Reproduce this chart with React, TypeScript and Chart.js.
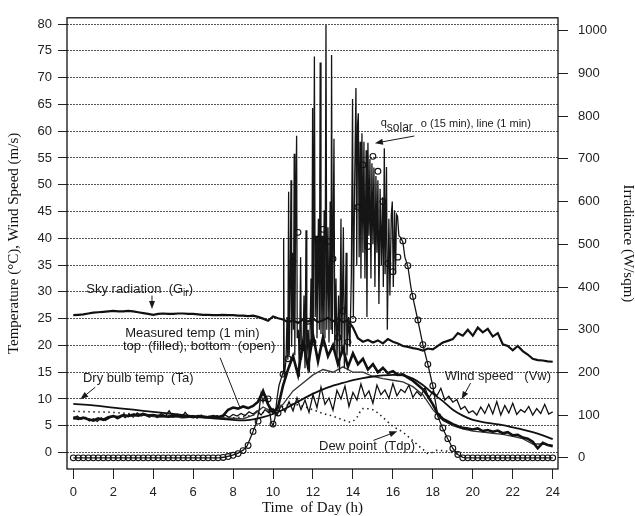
import React, { useEffect, useRef } from "react";
import { Chart, registerables } from "chart.js";

Chart.register(...registerables);

// ---------- tick labels ----------
const HOUR_TICKS = [0, 2, 4, 6, 8, 10, 12, 14, 16, 18, 20, 22, 24];
const TEMP_TICKS = [0, 5, 10, 15, 20, 25, 30, 35, 40, 45, 50, 55, 60, 65, 70, 75, 80];
const IRR_TICKS = [0, 100, 200, 300, 400, 500, 600, 700, 800, 900, 1000];

// ---------- time grids ----------
const QUARTER_HOURS = Array.from({ length: 97 }, (_, i) => i / 4);
const FIFTH_HOURS = Array.from({ length: 121 }, (_, i) => i / 5);
const HALF_HOURS = Array.from({ length: 49 }, (_, i) => i / 2);

// ---------- q_solar, 15 min averages (W/sqm) ----------
const QSOLAR_15MIN = [
  0, 0, 0, 0, 0, 0, 0, 0,
  0, 0, 0, 0, 0, 0, 0, 0,
  0, 0, 0, 0, 0, 0, 0, 0,
  0, 0, 0, 0, 0, 0, 1, 3,
  6, 10, 17, 29, 62, 86, 140, 138,
  79, 105, 196, 232, 460, 528, 259, 320,
  271, 512, 535, 507, 466, 282, 344, 271,
  324, 587, 686, 495, 706, 671, 600, 455,
  436, 470, 508, 450, 378, 323, 265, 219,
  169, 97, 70, 45, 22, 8, 0, 0,
  0, 0, 0, 0, 0, 0, 0, 0,
  0, 0, 0, 0, 0, 0, 0, 0,
  0,
];

// ---------- q_solar, 1 min line (W/sqm) ----------
const QSOLAR_1MIN_HOURS = [
  0, 7.3, 7.6, 7.9, 8.2, 8.5, 8.7, 8.85, 9.0, 9.15, 9.3, 9.4, 9.5, 9.6, 9.7, 9.8, 9.9, 10.0, 10.1, 10.2, 10.3, 10.4,
  10.5, 10.53, 10.56, 10.65, 10.7, 10.74, 10.78, 10.81, 10.86, 10.9, 10.93, 10.98, 11.02, 11.06, 11.09, 11.13, 11.18, 11.21,
  11.27, 11.32, 11.38, 11.42, 11.5, 11.55, 11.6, 11.65, 11.69, 11.76, 11.82, 11.9, 11.94, 11.98, 12.01, 12.07, 12.11, 12.16,
  12.2, 12.27, 12.32, 12.36, 12.4, 12.46, 12.5, 12.56, 12.6, 12.65, 12.69, 12.75, 12.8, 12.86, 12.9, 12.93, 12.97, 13.05,
  13.09, 13.15, 13.2, 13.28, 13.33, 13.4, 13.44, 13.52, 13.57, 13.66, 13.7, 13.78, 13.85, 13.92, 13.98, 14.02, 14.08, 14.15,
  14.19, 14.23, 14.27, 14.31, 14.36, 14.4, 14.45, 14.5, 14.55, 14.6, 14.66, 14.7, 14.75, 14.8, 14.85, 14.9, 14.95, 15.0,
  15.05, 15.1, 15.15, 15.2, 15.25, 15.3, 15.36, 15.42, 15.48, 15.52, 15.57, 15.61, 15.68, 15.72, 15.8, 15.85, 15.92, 15.97,
  16.02, 16.08, 16.13, 16.18, 16.23, 16.3, 16.4, 16.5, 16.6, 16.75, 16.9, 17.0, 17.25, 17.5, 17.75, 18.0, 18.25, 18.5,
  18.75, 19.0, 19.25, 19.5, 19.7, 24,
];
const QSOLAR_1MIN_VALUES = [
  0, 0, 2, 5, 10, 18, 28, 45, 62, 80, 110, 150, 130, 148, 140, 120, 85, 75, 95, 140, 170, 185,
  200, 515, 190, 230, 330, 230, 623, 240, 420, 650, 260, 480, 300, 712, 240, 560, 754, 280,
  300, 190, 470, 230, 260, 380, 210, 533, 230, 300, 200, 420, 260, 819, 280, 940, 330, 520,
  280, 560, 300, 926, 290, 520, 260, 580, 280, 1014, 300, 540, 270, 600, 300, 943, 290, 747,
  250, 420, 230, 380, 200, 560, 240, 540, 210, 480, 240, 330, 260, 430, 840, 330, 620, 866,
  450, 780, 807, 470, 740, 420, 760, 480, 740, 420, 720, 330, 738, 520, 700, 420, 690, 500,
  680, 400, 660, 480, 650, 360, 630, 450, 610, 400, 725, 430, 681, 300, 560, 380, 570, 600,
  400, 580, 430, 570, 566, 520, 515, 505, 470, 448, 400, 376, 322, 265, 219, 168, 97, 68,
  44, 22, 8, 1, 0, 0,
];

// ---------- sky radiation G_ir (W/sqm), 15 min ----------
const SKY_RADIATION = [
  334, 335, 336, 338, 340, 341, 342, 343,
  344, 343, 343, 344, 343, 341, 339, 337,
  335, 337, 338, 337, 337, 338, 338, 337,
  337, 336, 335, 335, 334, 334, 335, 334,
  334, 333, 333, 332, 333, 330, 326, 321,
  331, 327, 324, 318, 322, 316, 324, 319,
  326, 318, 322, 328, 320, 326, 318, 322,
  305, 280, 272, 276, 270, 275, 268, 278,
  272, 268, 262, 260, 257, 255, 251, 256,
  254, 262, 270, 274, 278, 292, 286, 300,
  286, 305, 294, 302, 284, 292, 266, 262,
  252, 262, 250, 242, 232, 229, 228, 226,
  225,
];

// ---------- dry bulb temp Ta (°C) ----------
const TA_HOURS = [0, 1, 2, 3, 4, 5, 6, 7, 8, 8.5, 9, 9.5, 10, 10.5, 11, 11.5, 12, 12.5, 13, 13.5, 14, 14.5, 15, 15.5, 16, 16.5, 17, 17.5, 18, 18.5, 19, 19.5, 20, 20.5, 21, 21.5, 22, 22.5, 23, 23.5, 24];
const TA_VALUES = [9.1, 8.8, 8.4, 8.0, 7.6, 7.2, 6.8, 6.4, 6.1, 6.0, 6.2, 6.6, 7.2, 8.0, 9.0, 10.0, 11.0, 11.8, 12.5, 13.0, 13.5, 13.9, 14.2, 14.4, 14.5, 14.4, 13.8, 12.6, 11.0, 9.6, 8.0, 6.9, 6.1, 5.7, 5.4, 5.1, 4.7, 4.3, 3.8, 3.2, 2.5];

// ---------- measured temp top (filled), 15 min (°C) ----------
const MEASURED_TOP = [
  6.6, 6.3, 6.5, 6.2, 6.0, 6.4, 6.1, 6.6,
  6.8, 6.5, 7.0, 6.8, 7.1, 6.9, 7.2, 6.9,
  7.0, 6.8, 6.9, 6.7, 6.8, 6.9, 6.7, 6.8,
  6.6, 6.8, 6.7, 6.6, 6.8, 6.6, 6.9, 8.0,
  8.4, 8.2, 8.6, 8.3, 8.7, 9.5, 11.5, 9.0,
  7.5, 8.5, 12.5, 15.5, 18.0, 14.5, 20.5, 16.0,
  22.0, 17.0, 21.5, 18.0, 20.0, 16.5, 19.5, 16.0,
  18.5, 16.5, 17.5, 15.5, 16.5, 15.0, 15.8, 14.8,
  15.2, 14.5, 14.6, 14.0, 13.4, 12.6, 11.8, 10.5,
  9.0, 7.2, 6.3, 5.8, 5.3, 4.9, 4.6, 4.5,
  4.3, 4.5, 4.0, 4.2, 3.9, 4.1, 3.6, 3.8,
  3.2, 3.3, 2.8, 2.6, 2.0, 0.8, 1.8, 1.4,
  1.2,
];

// ---------- measured temp bottom (open), 30 min (°C) ----------
const MEASURED_BOTTOM = [
  6.2, 6.6, 5.9, 6.3, 6.7, 6.9, 6.8, 7.0,
  6.7, 6.6, 6.7, 6.5, 6.6, 6.5, 6.5, 6.4,
  6.4, 6.3, 7.0, 8.5, 7.5, 9.0, 11.5, 13.0,
  14.5, 15.5, 15.0, 16.0, 15.0, 15.0, 14.2, 13.8,
  13.5, 13.2, 12.3, 10.8, 8.0, 6.0, 5.0, 4.4,
  4.0, 3.8, 3.6, 3.4, 3.0, 2.6, 1.6, 1.6,
  1.3,
];

// ---------- wind speed Vw (m/s), 12 min ----------
const WIND_SPEED = [
  6.4, 6.8, 6.2, 6.6, 5.9, 6.3, 5.8, 6.5, 6.0, 6.4,
  6.9, 6.3, 7.0, 6.5, 7.2, 6.6, 7.4, 6.8, 7.1, 6.6,
  7.0, 6.5, 7.3, 6.7, 7.8, 6.6, 7.2, 6.5, 7.5, 6.6,
  6.9, 6.4, 7.0, 6.5, 6.8, 6.4, 6.9, 6.5, 7.0, 6.6,
  7.1, 6.8, 7.3, 6.9, 7.6, 7.2, 7.8, 7.0, 8.0, 7.4,
  8.2, 7.0, 8.8, 7.6, 9.5, 7.8, 10.2, 8.0, 9.8, 7.5,
  10.8, 8.4, 12.2, 9.0, 10.2, 7.9, 11.6, 10.0, 12.4, 8.6,
  11.2, 9.8, 12.8, 10.4, 11.5, 9.2, 12.6, 10.8, 11.7, 10.1,
  12.9, 10.6, 11.8, 11.2, 12.6, 10.3, 11.4, 10.6, 12.1, 10.2,
  11.4, 10.6, 12.0, 9.8, 10.5, 9.4, 9.9, 8.1, 8.6, 7.4,
  7.8, 7.0, 8.5, 7.3, 9.0, 7.2, 9.5, 7.0, 8.8, 7.4,
  9.2, 7.1, 8.0, 7.5, 8.6, 7.0, 8.2, 7.3, 9.0, 7.2,
  7.6,
];

// ---------- dew point Tdp (°C) ----------
const DEW_HOURS = [0, 1, 2, 3, 4, 5, 6, 7, 8, 9, 10, 11, 12, 12.5, 13, 13.5, 13.9, 14.2, 14.5, 15, 15.4, 16, 16.5, 17, 17.5, 17.8, 18.2, 18.8, 19.2];
const DEW_VALUES = [7.7, 7.6, 7.5, 7.2, 7.0, 6.8, 6.7, 6.6, 6.5, 7.0, 8.0, 9.0, 8.0, 7.3, 6.8, 6.1, 5.7, 6.6, 8.2, 8.0, 6.9, 4.9, 3.8, 2.2, 0.6, -0.2, 0.4, 0.2, -0.3];

// ---------- annotation texts (position in hours / °C) ----------
const SANS = '"Liberation Sans", Arial, Helvetica, sans-serif';
const SERIF = '"Liberation Serif", "Times New Roman", Times, serif';

const TEXT_LABELS = [
  { x: 0.65, y: 30.4, parts: [{ t: "Sky radiation  (G", s: 13, dy: 0 }, { t: "ir", s: 10, dy: 3.5 }, { t: ")", s: 13, dy: 0 }] },
  { x: 2.6, y: 22.3, parts: [{ t: "Measured temp (1 min)", s: 13, dy: 0 }] },
  { x: 2.485, y: 19.8, parts: [{ t: "top  (filled), bottom  (open)", s: 13, dy: 0 }] },
  { x: 0.485, y: 13.76, parts: [{ t: "Dry bulb temp  (Ta)", s: 13, dy: 0 }] },
  { x: 15.39, y: 61.4, parts: [{ t: "q", s: 11, dy: -1 }, { t: "solar", s: 12, dy: 4 }] },
  { x: 17.4, y: 61.4, parts: [{ t: "o (15 min), line (1 min)", s: 11, dy: 0 }] },
  { x: 18.6, y: 14.2, parts: [{ t: "Wind speed   (Vw)", s: 13, dy: 0 }] },
  { x: 12.3, y: 1.16, parts: [{ t: "Dew point  (Tdp)", s: 13, dy: 0 }] },
];

const POINTERS = [
  { x1: 3.94, y1: 29.3, x2: 3.94, y2: 26.78, head: true },
  { x1: 7.35, y1: 17.7, x2: 8.35, y2: 8.33, head: false },
  { x1: 1.1, y1: 12.19, x2: 0.35, y2: 9.93, head: true },
  { x1: 17.07, y1: 59.09, x2: 15.1, y2: 57.75, head: true },
  { x1: 19.89, y1: 12.98, x2: 19.44, y2: 9.93, head: true },
  { x1: 15.02, y1: 2.26, x2: 16.22, y2: 3.97, head: true },
];

const zip = (xs: number[], ys: number[]) => xs.map((x, i) => ({ x, y: ys[i] }));

const annotationPlugin = {
  id: "figureAnnotations",
  afterDatasetsDraw(chart: any) {
    const { ctx, chartArea, scales } = chart;
    const sx = scales.x;
    const sy = scales.y;
    ctx.save();
    ctx.strokeStyle = "#111";
    ctx.lineWidth = 1.3;
    ctx.strokeRect(chartArea.left, chartArea.top, chartArea.right - chartArea.left, chartArea.bottom - chartArea.top);

    ctx.fillStyle = "#1a1a1a";
    ctx.textBaseline = "middle";
    ctx.textAlign = "left";
    for (const lab of TEXT_LABELS) {
      let px = sx.getPixelForValue(lab.x);
      const py = sy.getPixelForValue(lab.y);
      for (const p of lab.parts) {
        ctx.font = `${p.s}px ${SANS}`;
        ctx.fillText(p.t, px, py + p.dy);
        px += ctx.measureText(p.t).width;
      }
    }

    ctx.strokeStyle = "#1a1a1a";
    ctx.lineWidth = 1;
    for (const a of POINTERS) {
      const x1 = sx.getPixelForValue(a.x1);
      const y1 = sy.getPixelForValue(a.y1);
      const x2 = sx.getPixelForValue(a.x2);
      const y2 = sy.getPixelForValue(a.y2);
      const ang = Math.atan2(y2 - y1, x2 - x1);
      const hl = 8;
      const hw = 3;
      const ex = a.head ? x2 - Math.cos(ang) * hl * 0.8 : x2;
      const ey = a.head ? y2 - Math.sin(ang) * hl * 0.8 : y2;
      ctx.beginPath();
      ctx.moveTo(x1, y1);
      ctx.lineTo(ex, ey);
      ctx.stroke();
      if (a.head) {
        const bx = x2 - Math.cos(ang) * hl;
        const by = y2 - Math.sin(ang) * hl;
        ctx.beginPath();
        ctx.moveTo(x2, y2);
        ctx.lineTo(bx + Math.sin(ang) * hw, by - Math.cos(ang) * hw);
        ctx.lineTo(bx - Math.sin(ang) * hw, by + Math.cos(ang) * hw);
        ctx.closePath();
        ctx.fill();
      }
    }
    ctx.restore();
  },
};

export default function App() {
  const ref = useRef<HTMLCanvasElement | null>(null);

  useEffect(() => {
    if (!ref.current) return;
    const tickFont = { family: SANS, size: 13 };
    const titleFont = { family: SERIF, size: 15, lineHeight: 1 };
    const chart = new Chart(ref.current, {
      type: "line",
      data: {
        datasets: [
          {
            label: "q_solar 15 min",
            data: zip(QUARTER_HOURS, QSOLAR_15MIN),
            yAxisID: "y1",
            showLine: false,
            pointRadius: 2.9,
            pointBorderWidth: 1.1,
            pointBorderColor: "#111",
            pointBackgroundColor: "rgba(0,0,0,0)",
            borderColor: "#111",
          },
          {
            label: "q_solar 1 min",
            data: zip(QSOLAR_1MIN_HOURS, QSOLAR_1MIN_VALUES),
            yAxisID: "y1",
            borderColor: "#151515",
            borderWidth: 1.3,
            pointRadius: 0,
          },
          {
            label: "Ta",
            data: zip(TA_HOURS, TA_VALUES),
            yAxisID: "y",
            borderColor: "#111",
            borderWidth: 1.8,
            cubicInterpolationMode: "monotone",
            pointRadius: 0,
          },
          {
            label: "Measured top",
            data: zip(QUARTER_HOURS, MEASURED_TOP),
            yAxisID: "y",
            borderColor: "#111",
            borderWidth: 2.6,
            pointRadius: 0,
          },
          {
            label: "Measured bottom",
            data: zip(HALF_HOURS, MEASURED_BOTTOM),
            yAxisID: "y",
            borderColor: "#333",
            borderWidth: 1.3,
            pointRadius: 0,
          },
          {
            label: "Wind speed",
            data: zip(FIFTH_HOURS, WIND_SPEED),
            yAxisID: "y",
            borderColor: "#111",
            borderWidth: 1.3,
            pointRadius: 0,
          },
          {
            label: "Dew point",
            data: zip(DEW_HOURS, DEW_VALUES),
            yAxisID: "y",
            borderColor: "#222",
            borderWidth: 1.6,
            borderDash: [1.5, 3.5],
            cubicInterpolationMode: "monotone",
            pointRadius: 0,
          },
          {
            label: "Sky radiation",
            data: zip(QUARTER_HOURS, SKY_RADIATION),
            yAxisID: "y1",
            borderColor: "#111",
            borderWidth: 2.2,
            pointRadius: 0,
          },
        ],
      },
      options: {
        animation: false,
        responsive: false,
        maintainAspectRatio: false,
        layout: { padding: { top: 11, left: 0, right: 0, bottom: 0 } },
        plugins: { legend: { display: false }, tooltip: { enabled: false } },
        scales: {
          x: {
            type: "linear",
            position: "bottom",
            min: -0.315,
            max: 24.265,
            afterBuildTicks: (s: any) => {
              s.ticks = HOUR_TICKS.map((v) => ({ value: v }));
            },
            afterFit: (s: any) => {
              s.height = 47;
            },
            ticks: { font: tickFont, color: "#222", padding: 6, maxRotation: 0, autoSkip: false, callback: (v: any) => String(v) },
            grid: { drawOnChartArea: false, drawTicks: true, tickLength: 10, color: "#222", tickWidth: 1 },
            border: { display: false },
            title: { display: true, text: "Time  of Day (h)", font: titleFont, color: "#111", padding: { top: 0, bottom: 0.5 } },
          },
          y: {
            type: "linear",
            position: "left",
            min: -3.07,
            max: 81.16,
            afterBuildTicks: (s: any) => {
              s.ticks = TEMP_TICKS.map((v) => ({ value: v }));
            },
            afterFit: (s: any) => {
              s.width = 67;
            },
            ticks: { font: tickFont, color: "#222", padding: 6, autoSkip: false, callback: (v: any) => String(v) },
            grid: { drawOnChartArea: true, drawTicks: true, tickLength: 9, color: "#555", lineWidth: 1, tickColor: "#222", tickWidth: 1, tickBorderDash: [] },
            border: { display: false, dash: [2, 1] },
            title: { display: true, text: "Temperature (°C), Wind Speed (m/s)", font: titleFont, color: "#111", padding: { top: 6.5, bottom: 0 } },
          },
          y1: {
            type: "linear",
            position: "right",
            min: -26.1,
            max: 1030.4,
            afterBuildTicks: (s: any) => {
              s.ticks = IRR_TICKS.map((v) => ({ value: v }));
            },
            afterFit: (s: any) => {
              s.width = 77;
            },
            ticks: { font: tickFont, color: "#222", padding: 10, autoSkip: false, callback: (v: any) => String(v) },
            grid: { drawOnChartArea: false, drawTicks: true, tickLength: 10, color: "#222", tickWidth: 1 },
            border: { display: false },
            title: { display: true, text: "Irradiance (W/sqm)", font: titleFont, color: "#111", padding: { top: 0, bottom: 0 } },
          },
        },
      },
      plugins: [annotationPlugin],
    } as any);
    return () => chart.destroy();
  }, []);

  return (
    <div style={{ position: "fixed", left: 0, top: 0, width: 635, height: 516, background: "#fff" }}>
      <canvas ref={ref} width={635} height={516} style={{ display: "block", width: 635, height: 516 }} />
    </div>
  );
}
